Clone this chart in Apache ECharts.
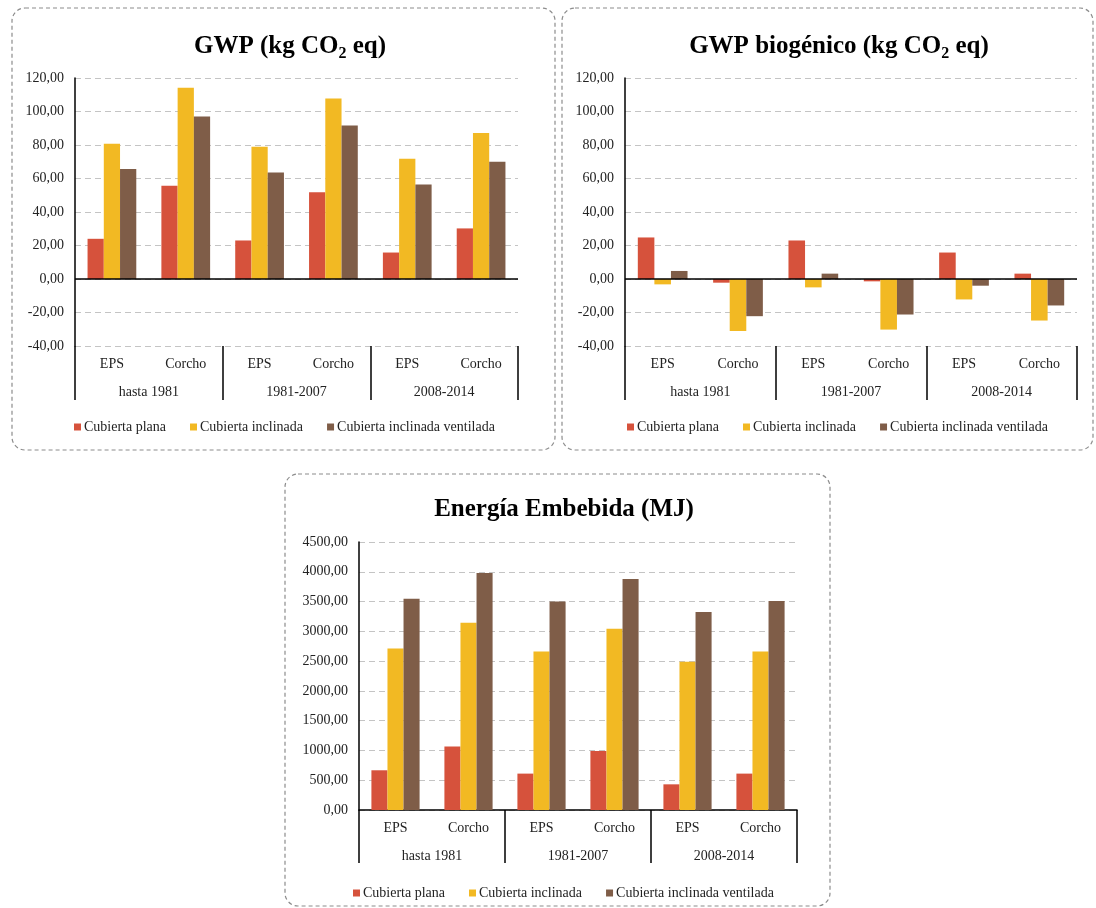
<!DOCTYPE html>
<html>
<head>
<meta charset="utf-8">
<script src="https://cdn.jsdelivr.net/npm/echarts@6/dist/echarts.min.js"></script>
<style>
html,body{margin:0;padding:0;background:#fff;}
#c{width:1096px;height:908px;}
</style>
</head>
<body>
<div id="c"></div>
<script>
// ---- data ----
const subCategories = ['EPS','Corcho','EPS','Corcho','EPS','Corcho'];
const groups = ['hasta 1981','1981-2007','2008-2014'];
const seriesNames = ['Cubierta plana','Cubierta inclinada','Cubierta inclinada ventilada'];

const gwpPlana = [24.0, 55.6, 23.0, 51.8, 15.8, 30.2];
const gwpInclinada = [80.8, 114.2, 79.0, 107.8, 71.8, 87.2];
const gwpVentilada = [65.6, 97.0, 63.6, 91.6, 56.4, 70.0];

const bioPlana = [24.8, -2.2, 23.0, -1.4, 15.8, 3.2];
const bioInclinada = [-3.2, -31.0, -5.0, -30.2, -12.2, -24.8];
const bioVentilada = [4.8, -22.2, 3.2, -21.2, -4.0, -15.8];

const enePlana = [667, 1065, 611, 992, 431, 611];
const eneInclinada = [2712, 3144, 2662, 3043, 2488, 2662];
const eneVentilada = [3547, 3979, 3502, 3878, 3323, 3508];

const titles = ['GWP (kg CO2 eq)', 'GWP biogénico (kg CO2 eq)', 'Energía Embebida (MJ)'];

// ---- styles ----
const FONT = '"Liberation Serif", "DejaVu Serif", serif';
const colors = ['#D6523C', '#F2B923', '#7F5D48'];
const fmt = v => v.toFixed(2).replace('.', ',');

const grids = [
  {left: 75, top: 78, width: 443, height: 268},
  {left: 625, top: 78, width: 452, height: 268},
  {left: 359, top: 542, width: 438, height: 268}
];
const yRanges = [
  {min: -40, max: 120, interval: 20},
  {min: -40, max: 120, interval: 20},
  {min: 0, max: 4500, interval: 500}
];
const dataSets = [
  [gwpPlana, gwpInclinada, gwpVentilada],
  [bioPlana, bioInclinada, bioVentilada],
  [enePlana, eneInclinada, eneVentilada]
];
const titlePos = [{x: 285, y: 27}, {x: 834, y: 27}, {x: 559, y: 490}];
const legendPos = [{x: 69, y: 415}, {x: 622, y: 415}, {x: 348, y: 881}];
const tickLen = [54, 54, 53];

function titleText(t) {
  if (t.indexOf('CO2') >= 0) {
    const parts = t.split('CO2');
    return '{a|' + parts[0] + 'CO}{s|2}{a|' + parts[1] + '}';
  }
  return '{a|' + t + '}';
}

const option = {
  backgroundColor: '#fff',
  animation: false,
  textStyle: {fontFamily: FONT},
  grid: grids.map(g => Object.assign({containLabel: false}, g)),
  title: titles.map((t, i) => ({
    text: titleText(t),
    left: titlePos[i].x,
    top: titlePos[i].y,
    textAlign: 'center',
    textStyle: {
      rich: {
        a: {fontFamily: FONT, fontSize: 25, fontWeight: 'bold', color: '#000', lineHeight: 30},
        s: {fontFamily: FONT, fontSize: 16, fontWeight: 'bold', color: '#000', lineHeight: 30, verticalAlign: 'bottom', padding: [11, 0, 0, 0]}
      }
    }
  })),
  legend: legendPos.map((p, i) => ({
    data: seriesNames,
    left: p.x,
    top: p.y,
    itemWidth: 7,
    itemHeight: 7,
    itemGap: 24,
    icon: 'rect',
    selectedMode: false,
    textStyle: {fontFamily: FONT, fontSize: 14, color: '#222', padding: [0, 0, 0, -2]}
  })),
  xAxis: [],
  yAxis: [],
  series: [],
  graphic: []
};

for (let i = 0; i < 3; i++) {
  option.xAxis.push({
    type: 'category',
    gridIndex: i,
    data: subCategories,
    position: 'bottom',
    axisLine: {show: false, onZero: false},
    axisTick: {show: false},
    axisLabel: {fontFamily: FONT, fontSize: 14, color: '#222', margin: 11, interval: 0},
    splitLine: {show: false}
  });
  option.xAxis.push({
    type: 'category',
    gridIndex: i,
    data: groups,
    position: 'bottom',
    axisLine: {show: i === 2, onZero: false, lineStyle: {color: '#000', width: 1.5}},
    axisTick: {show: true, interval: 0, length: tickLen[i], lineStyle: {color: '#000', width: 1.5}},
    axisLabel: {fontFamily: FONT, fontSize: 14, color: '#222', margin: 39, interval: 0},
    splitLine: {show: false}
  });
  option.yAxis.push({
    type: 'value',
    gridIndex: i,
    min: yRanges[i].min,
    max: yRanges[i].max,
    interval: yRanges[i].interval,
    axisLine: {show: true, onZero: false, lineStyle: {color: '#000', width: 1.5}},
    axisTick: {show: false},
    axisLabel: {fontFamily: FONT, fontSize: 14, color: '#222', margin: 11, formatter: fmt},
    splitLine: {show: true, lineStyle: {color: '#C4C4C4', width: 1.2, type: [6, 4]}}
  });
  for (let s = 0; s < 3; s++) {
    const ser = {
      type: 'bar',
      name: seriesNames[s],
      xAxisIndex: i * 2,
      yAxisIndex: i,
      data: dataSets[i][s],
      barGap: '0%',
      barCategoryGap: '34%',
      itemStyle: {color: colors[s]}
    };
    if (s === 0 && i < 2) {
      ser.markLine = {
        silent: true,
        symbol: 'none',
        label: {show: false},
        lineStyle: {color: '#000', width: 1.5, type: 'solid'},
        data: [{yAxis: 0}]
      };
    }
    option.series.push(ser);
  }
}

const panels = [
  {x: 12, y: 8, w: 543, h: 442},
  {x: 562, y: 8, w: 531, h: 442},
  {x: 285, y: 474, w: 545, h: 432}
];
panels.forEach(p => {
  option.graphic.push({
    type: 'rect',
    shape: {x: p.x, y: p.y, width: p.w, height: p.h, r: 13},
    style: {fill: 'none', stroke: '#8C8C8C', lineWidth: 1.2, lineDash: [4, 3]},
    silent: true,
    z: -1
  });
});

const chart = echarts.init(document.getElementById('c'), null, {renderer: 'canvas'});
chart.setOption(option);
</script>
</body>
</html>
